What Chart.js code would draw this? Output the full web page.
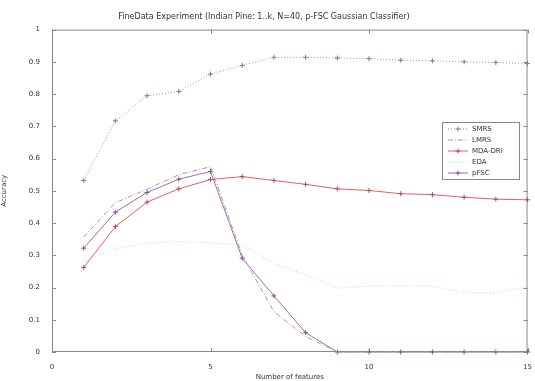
<!DOCTYPE html>
<html>
<head>
<meta charset="utf-8">
<script src="https://cdn.jsdelivr.net/npm/chart.js@4.4.1/dist/chart.umd.min.js"></script>
<style>
  html, body { margin: 0; padding: 0; background: #fff; }
  #wrap { width: 535px; height: 381px; }
</style>
</head>
<body>
<div id="wrap"><canvas id="accChart"></canvas></div>
<script>
// number of features on the x axis
const featureCounts = [1, 2, 3, 4, 5, 6, 7, 8, 9, 10, 11, 12, 13, 14, 15];

// accuracy of each method
const smrsAcc   = [0.532, 0.717, 0.795, 0.808, 0.862, 0.889, 0.914, 0.914, 0.912, 0.910, 0.905, 0.903, 0.900, 0.898, 0.895];
const lmrsAcc   = [0.357, 0.463, 0.505, 0.550, 0.575, 0.300, 0.125, 0.048, 0.000, 0.000, 0.000, 0.000, 0.000, 0.000, 0.000];
const mdaAcc    = [0.262, 0.389, 0.465, 0.506, 0.535, 0.544, 0.532, 0.520, 0.506, 0.501, 0.491, 0.488, 0.480, 0.474, 0.472];
const edaAcc    = [0.280, 0.322, 0.337, 0.343, 0.338, 0.332, 0.275, 0.239, 0.198, 0.205, 0.205, 0.205, 0.184, 0.183, 0.203];
const pfscAcc   = [0.322, 0.434, 0.495, 0.536, 0.560, 0.291, 0.174, 0.060, 0.000, 0.000, 0.000, 0.000, 0.000, 0.000, 0.000];

const methodNames = ['SMRS', 'LMRS', 'MDA-DRI', 'EDA', 'pFSC'];
const xTicks = [0, 5, 10, 15];
const yTicks = [0, 0.1, 0.2, 0.3, 0.4, 0.5, 0.6, 0.7, 0.8, 0.9, 1];

const toPoints = vals => vals.map((v, i) => ({ x: featureCounts[i], y: v }));

// MATLAB style box with inward ticks
const frameTicks = {
    id: 'frameTicks',
    beforeDatasetsDraw(c) {
        const { ctx, chartArea: a, scales } = c;
        ctx.save();
        ctx.strokeStyle = '#888';
        ctx.lineWidth = 1;
        ctx.strokeRect(a.left + 0.5, a.top + 0.5, a.right - a.left - 1, a.bottom - a.top - 1);
        ctx.beginPath();
        xTicks.forEach(t => {
            const px = Math.round(scales.x.getPixelForValue(t)) + 0.5;
            ctx.moveTo(px, a.bottom); ctx.lineTo(px, a.bottom - 4);
            ctx.moveTo(px, a.top); ctx.lineTo(px, a.top + 4);
        });
        yTicks.forEach(t => {
            const py = Math.round(scales.y.getPixelForValue(t)) + 0.5;
            ctx.moveTo(a.left, py); ctx.lineTo(a.left + 4, py);
            ctx.moveTo(a.right, py); ctx.lineTo(a.right - 4, py);
        });
        ctx.stroke();
        ctx.restore();
    }
};

// legend box in the upper right, like the original
const boxLegend = {
    id: 'boxLegend',
    afterDraw(c) {
        const ctx = c.ctx;
        const bx = 442, by = 122, bw = 77, bh = 57;
        ctx.save();
        ctx.fillStyle = '#fff';
        ctx.fillRect(bx, by, bw, bh);
        ctx.strokeStyle = '#888';
        ctx.lineWidth = 1;
        ctx.strokeRect(bx + 0.5, by + 0.5, bw, bh);
        ctx.font = '7px "DejaVu Sans"';
        ctx.textBaseline = 'middle';
        c.data.datasets.forEach((ds, i) => {
            const y = by + 7 + i * 11;
            ctx.strokeStyle = ds.borderColor;
            ctx.setLineDash(ds.borderDash || []);
            ctx.beginPath();
            ctx.moveTo(bx + 6, y); ctx.lineTo(bx + 26, y);
            ctx.stroke();
            ctx.setLineDash([]);
            if (ds.pointRadius > 0) {
                ctx.strokeStyle = ds.pointBorderColor;
                ctx.beginPath();
                ctx.moveTo(bx + 16, y - 2.5); ctx.lineTo(bx + 16, y + 2.5);
                ctx.moveTo(bx + 13.5, y); ctx.lineTo(bx + 18.5, y);
                ctx.stroke();
            }
            ctx.fillStyle = '#333';
            ctx.fillText(ds.label, bx + 30, y);
        });
        ctx.restore();
    }
};

const ctx = document.getElementById('accChart').getContext('2d');
new Chart(ctx, {
    type: 'line',
    data: {
        datasets: [
            { label: methodNames[0], data: toPoints(smrsAcc), borderColor: '#9494d0', borderDash: [1, 2],
              pointStyle: 'cross', pointRadius: 2.5, pointBorderColor: '#7878b0' },
            { label: methodNames[1], data: toPoints(lmrsAcc), borderColor: '#a0a0a0', borderDash: [5, 2, 1, 2],
              pointRadius: 0 },
            { label: methodNames[2], data: toPoints(mdaAcc), borderColor: '#f25c5c',
              pointStyle: 'cross', pointRadius: 2.5, pointBorderColor: '#b84858' },
            { label: methodNames[3], data: toPoints(edaAcc), borderColor: '#9ce4e0', borderDash: [1, 2],
              pointRadius: 0 },
            { label: methodNames[4], data: toPoints(pfscAcc), borderColor: '#a868b4',
              pointStyle: 'cross', pointRadius: 2.5, pointBorderColor: '#844c94' }
        ].map(d => ({ ...d, borderWidth: 1, fill: false, tension: 0, pointBorderWidth: 1, clip: false }))
    },
    options: {
        responsive: true,
        maintainAspectRatio: false,
        animation: false,
        layout: { padding: { left: 0, right: 7, top: 0, bottom: 0 } },
        plugins: {
            legend: { display: false },
            tooltip: { enabled: false },
            title: {
                display: true,
                text: 'FineData Experiment (Indian Pine: 1..k, N=40, p-FSC Gaussian Classifier)',
                color: '#333',
                font: { family: 'DejaVu Sans', size: 8, weight: 'normal' },
                padding: { top: 12, bottom: 8 }
            }
        },
        scales: {
            x: {
                type: 'linear', min: 0, max: 15,
                afterBuildTicks: s => { s.ticks = xTicks.map(v => ({ value: v })); },
                afterFit: s => { s.height = 29; },
                grid: { display: false },
                border: { display: false },
                ticks: { color: '#333', font: { family: 'DejaVu Sans', size: 7 }, padding: 3, maxRotation: 0 },
                title: { display: true, text: 'Number of features', color: '#333',
                         font: { family: 'DejaVu Sans', size: 7 }, padding: { top: 4, bottom: 0 } }
            },
            y: {
                min: 0, max: 1,
                afterBuildTicks: s => { s.ticks = yTicks.map(v => ({ value: v })); },
                afterFit: s => { s.width = 52; },
                grid: { display: false },
                border: { display: false },
                ticks: { color: '#333', font: { family: 'DejaVu Sans', size: 7 }, padding: 4,
                         callback: v => String(Math.round(v * 10) / 10) },
                title: { display: true, text: 'Accuracy', color: '#333',
                         font: { family: 'DejaVu Sans', size: 7 }, padding: { top: 0, bottom: 6 } }
            }
        }
    },
    plugins: [frameTicks, boxLegend]
});
</script>
</body>
</html>
